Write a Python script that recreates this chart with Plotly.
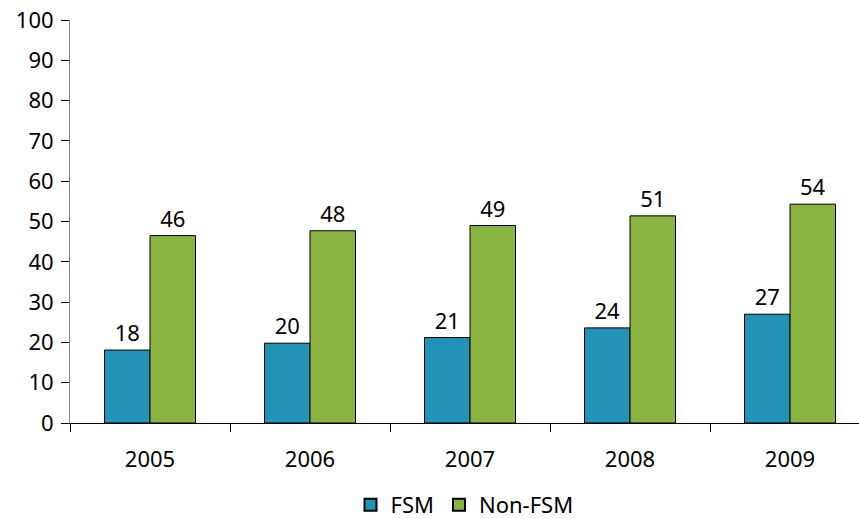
import plotly.graph_objects as go

years = ["2005", "2006", "2007", "2008", "2009"]
fsm = [18.1, 19.8, 21.2, 23.6, 27.0]
non_fsm = [46.5, 47.7, 49.0, 51.4, 54.3]
y_ticks = [0, 10, 20, 30, 40, 50, 60, 70, 80, 90, 100]

font_family = "Noto Sans"
fs = 22

fig = go.Figure()
fig.add_trace(go.Bar(
    name="FSM", x=years, y=fsm,
    marker=dict(color="#2292B6", line=dict(color="#000000", width=1)),
    text=[f"{v:.0f}" for v in fsm], textposition="outside",
    textfont=dict(family=font_family, size=fs, color="#000000"),
    cliponaxis=False,
))
fig.add_trace(go.Bar(
    name="Non-FSM", x=years, y=non_fsm,
    marker=dict(color="#8AB441", line=dict(color="#000000", width=1)),
    text=[f"{v:.0f}" for v in non_fsm], textposition="outside",
    textfont=dict(family=font_family, size=fs, color="#000000"),
    cliponaxis=False,
))

fig.update_layout(
    width=859, height=519,
    margin=dict(l=70, r=0, t=20, b=96, autoexpand=False),
    paper_bgcolor="white", plot_bgcolor="white",
    barmode="group", bargap=0.431, bargroupgap=0,
    font=dict(family=font_family, size=fs, color="#000000"),
    showlegend=True,
    legend=dict(orientation="h", x=0.5, xanchor="center", y=-0.2035, yanchor="middle",
                font=dict(family=font_family, size=fs), itemsizing="constant",
                traceorder="normal"),
    xaxis=dict(
        type="category", range=[-0.5, 4.431], automargin=False,
        showline=True, linecolor="#000000", linewidth=1,
        ticks="outside", ticklen=8, tickcolor="#000000", tickson="boundaries",
        showgrid=False, zeroline=False,
        ticklabelstandoff=17, ticklabeloverflow="allow",
        tickfont=dict(family=font_family, size=fs),
    ),
    yaxis=dict(
        range=[0, 100], tickvals=y_ticks, automargin=False,
        showline=True, linecolor="#808080", linewidth=1,
        ticks="outside", ticklen=8, tickcolor="#000000",
        showgrid=False, zeroline=False,
        ticklabelstandoff=3, ticklabeloverflow="allow",
        tickfont=dict(family=font_family, size=fs),
    ),
)

# remove the default 8px page margin so the figure fills the window exactly
fig.write_html(
    "out.html",
    config={"displayModeBar": False},
    post_script="document.body.style.margin='0';document.body.style.overflow='hidden';",
)
